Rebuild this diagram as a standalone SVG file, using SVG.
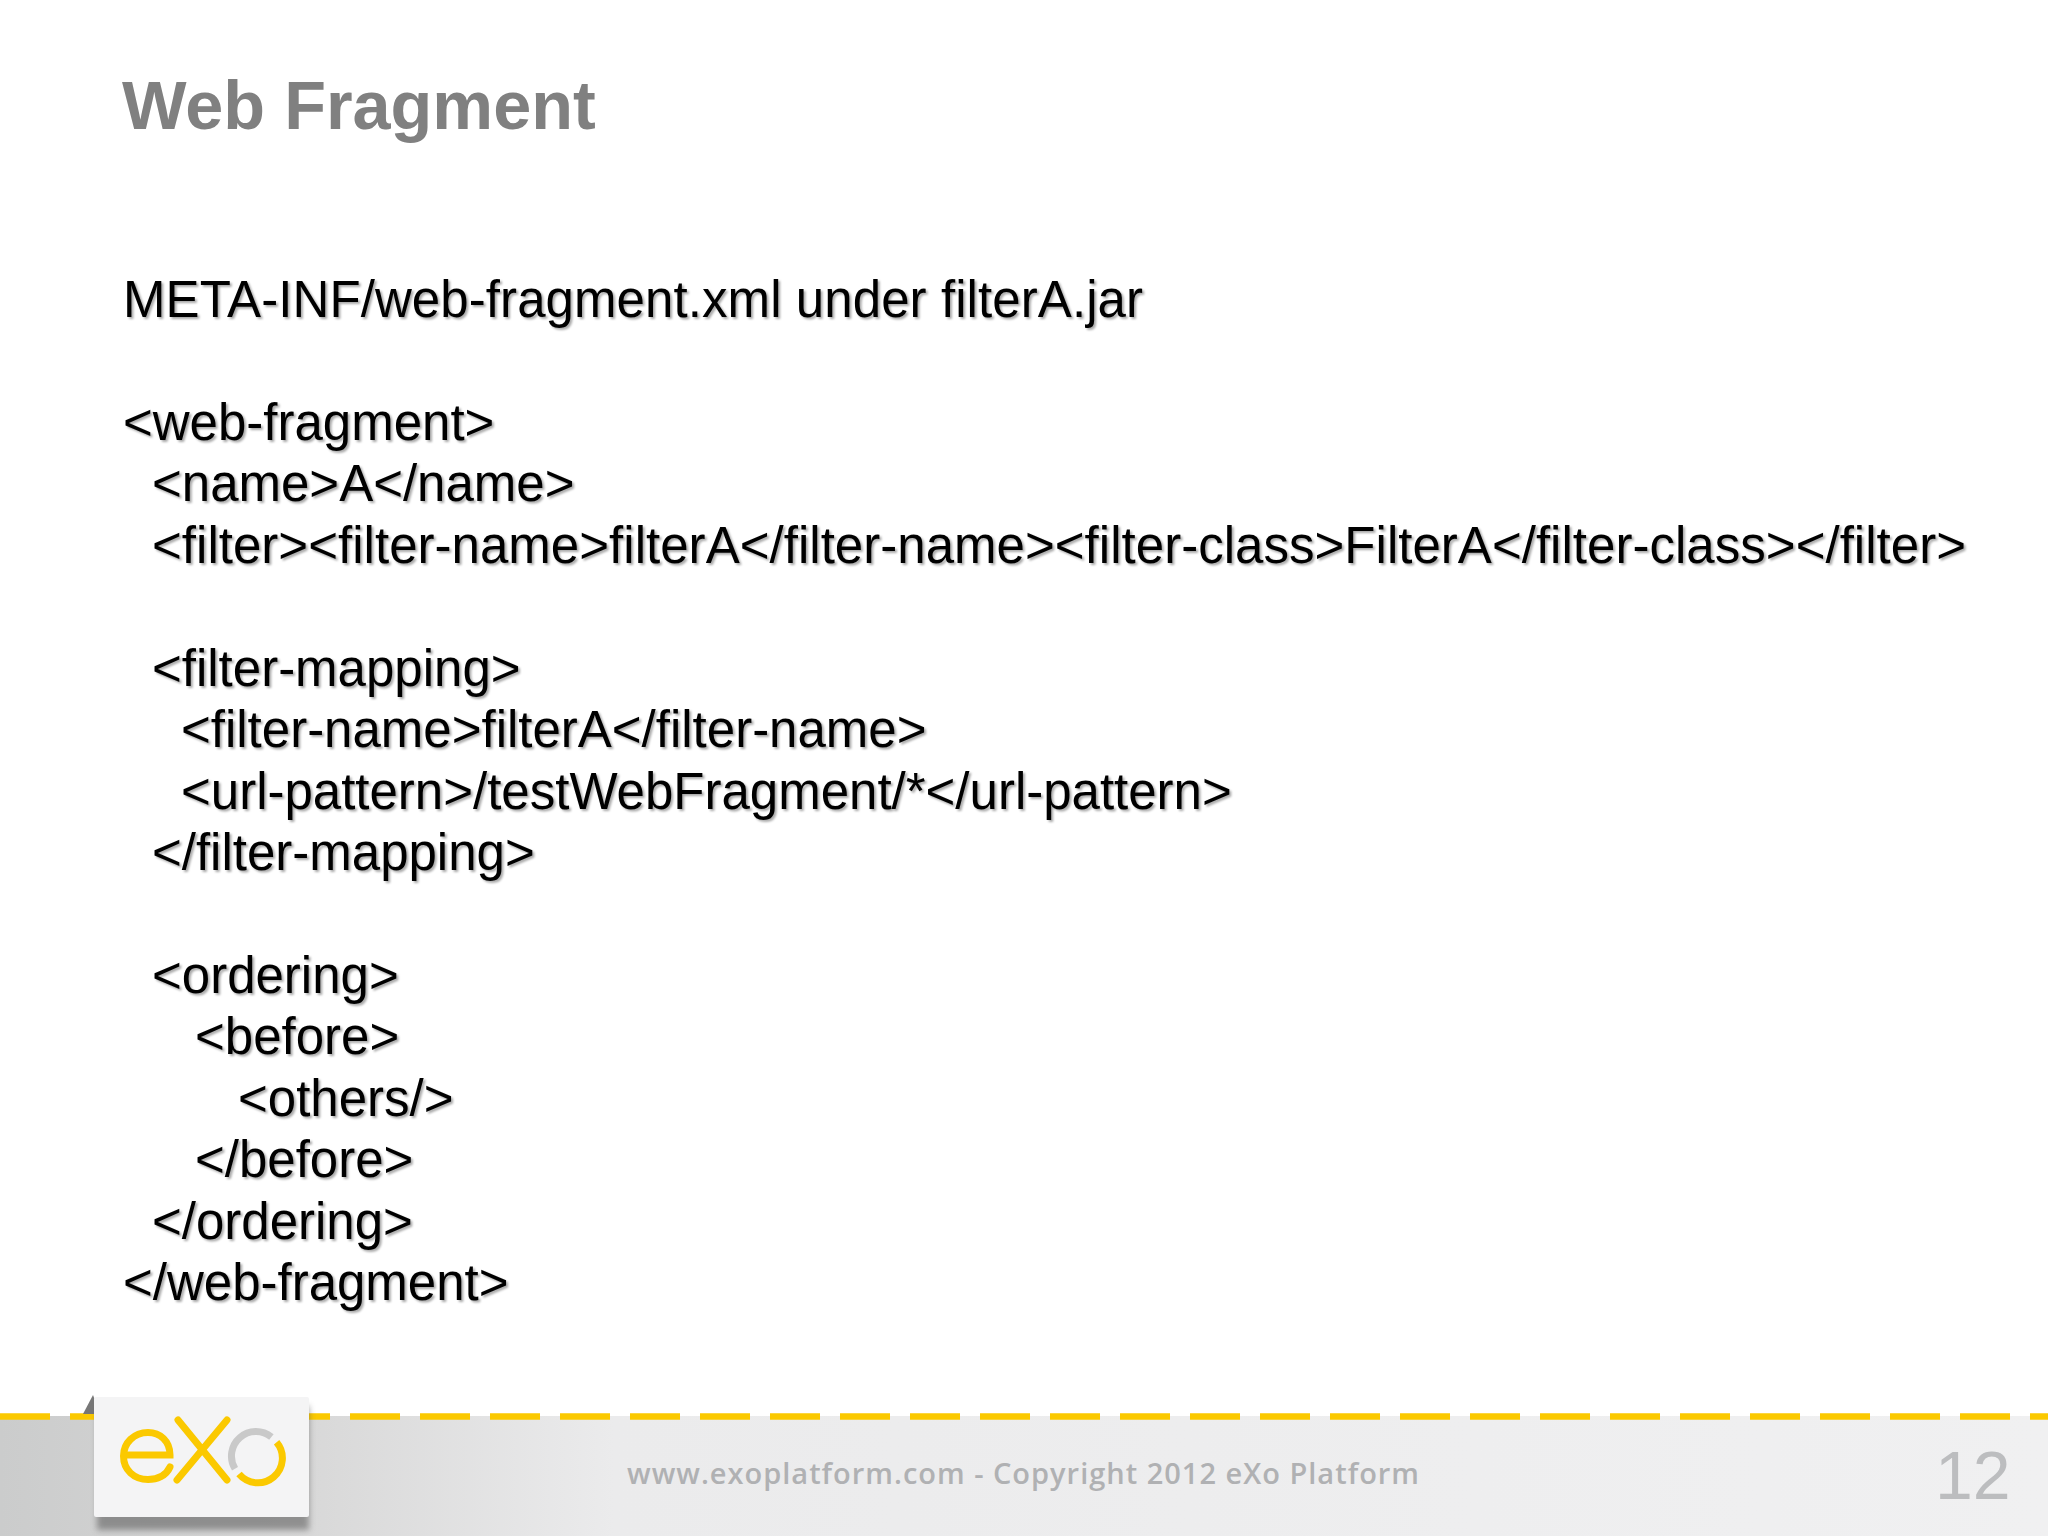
<svg xmlns="http://www.w3.org/2000/svg" width="2048" height="1536" viewBox="0 0 2048 1536">
<style>
.b{font:51px "Liberation Sans",Arial,sans-serif;fill:#000;filter:drop-shadow(2px 2px 1px #aaa)}
.t{font:bold 68.4px "Liberation Sans",Arial,sans-serif;fill:#808080}
</style>
<defs>
<linearGradient id="band" x1="0" x2="1" y1="0" y2="0"><stop offset="0" stop-color="#cbcccc"/><stop offset=".15" stop-color="#d8d8d8"/><stop offset=".3" stop-color="#ebebec"/><stop offset="1" stop-color="#f0f0f1"/></linearGradient>
<filter id="sh" x="-10%" y="-10%" width="120%" height="125%"><feGaussianBlur stdDeviation="3"/></filter>
</defs>
<rect width="2048" height="1536" fill="#fff"/>
<rect y="1416" width="2048" height="120" fill="url(#band)"/>
<line x1="0" y1="1416.500" x2="2048" y2="1416.500" stroke="#fbc900" stroke-width="6.500" stroke-dasharray="50 20"/>
<text class="t" x="122" y="129">Web Fragment</text>
<g class="body">
<text class="b" x="123" y="317" textLength="1020">META-INF/web-fragment.xml under filterA.jar</text>
<text class="b" x="123" y="440">&lt;web-fragment&gt;</text>
<text class="b" x="152" y="501">&lt;name&gt;A&lt;/name&gt;</text>
<text class="b" x="152" y="563" textLength="1814">&lt;filter&gt;&lt;filter-name&gt;filterA&lt;/filter-name&gt;&lt;filter-class&gt;FilterA&lt;/filter-class&gt;&lt;/filter&gt;</text>
<text class="b" x="152" y="686">&lt;filter-mapping&gt;</text>
<text class="b" x="181" y="747">&lt;filter-name&gt;filterA&lt;/filter-name&gt;</text>
<text class="b" x="181" y="809">&lt;url-pattern&gt;/testWebFragment/*&lt;/url-pattern&gt;</text>
<text class="b" x="152" y="870">&lt;/filter-mapping&gt;</text>
<text class="b" x="152" y="993">&lt;ordering&gt;</text>
<text class="b" x="195" y="1054">&lt;before&gt;</text>
<text class="b" x="238" y="1116">&lt;others/&gt;</text>
<text class="b" x="195" y="1177">&lt;/before&gt;</text>
<text class="b" x="152" y="1239">&lt;/ordering&gt;</text>
<text class="b" x="123" y="1300">&lt;/web-fragment&gt;</text>
</g>
<g id="logo">
<path d="M83 1414 L93 1395 L100 1414Z" fill="#777"/>
<rect x="97" y="1406" width="212" height="124" fill="#555" opacity=".55" filter="url(#sh)"/>
<rect x="94" y="1397" width="215" height="120" rx="2" fill="#f4f4f5"/>
<g fill="none" stroke="#fbc900" stroke-width="7" stroke-linecap="round">
<path d="M124 1455H170C170 1441 160 1432.500 148 1432.500C134 1432.500 123.500 1443 123.500 1456C123.500 1470 134 1479.500 148 1479.500C157 1479.500 166 1476 170 1467"/>
<path d="M178 1420L227 1480M227 1420L177 1480"/>
</g>
<path d="M276.600 1442.300A24.500 24.500 0 0 1 239 1474" fill="none" stroke="#fbc900" stroke-width="7"/>
<path d="M235 1468.700A24.500 24.500 0 0 1 271.400 1437" fill="none" stroke="#c9c9c9" stroke-width="7"/>
</g>
<text x="627" y="1484" font-family="'Open Sans','Noto Sans',sans-serif" font-weight="600" font-size="29" fill="#b0b1b3" textLength="792">www.exoplatform.com - Copyright 2012 eXo Platform</text>
<text x="1935" y="1499" font-family="'Liberation Sans',Arial,sans-serif" font-size="68" fill="#bcbdbf">12</text>
</svg>
